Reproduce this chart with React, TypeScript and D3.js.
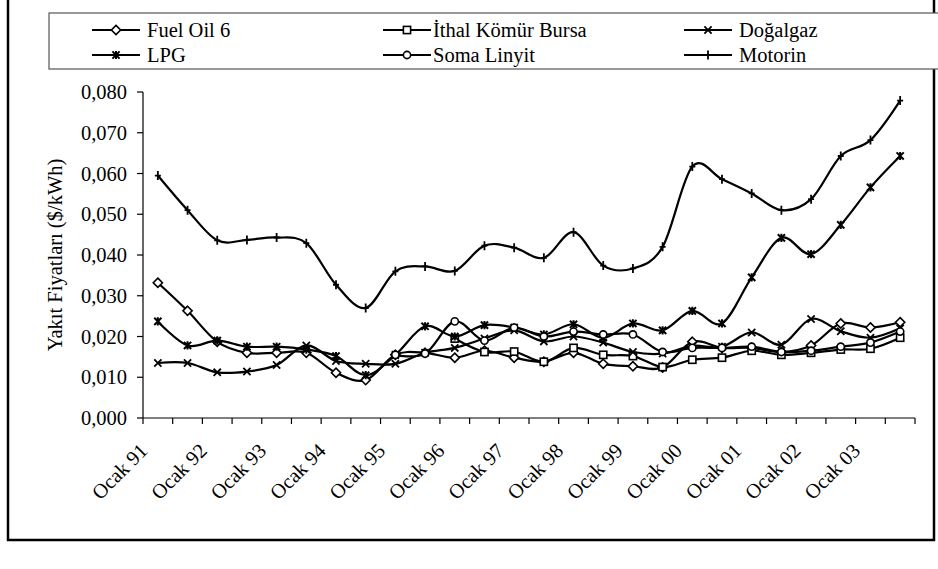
import React from 'react';
import * as d3 from 'd3';

const categories = [
  'Ocak 91', 'Temmuz 91', 'Ocak 92', 'Temmuz 92', 'Ocak 93', 'Temmuz 93', 'Ocak 94', 'Temmuz 94',
  'Ocak 95', 'Temmuz 95', 'Ocak 96', 'Temmuz 96', 'Ocak 97', 'Temmuz 97', 'Ocak 98', 'Temmuz 98',
  'Ocak 99', 'Temmuz 99', 'Ocak 00', 'Temmuz 00', 'Ocak 01', 'Temmuz 01', 'Ocak 02', 'Temmuz 02',
  'Ocak 03', 'Temmuz 03',
];
const tickLabels = ['Ocak 91', 'Ocak 92', 'Ocak 93', 'Ocak 94', 'Ocak 95', 'Ocak 96', 'Ocak 97', 'Ocak 98', 'Ocak 99', 'Ocak 00', 'Ocak 01', 'Ocak 02', 'Ocak 03'];

const fuelOil6 = [0.0332, 0.0263, 0.0187, 0.016, 0.016, 0.016, 0.0111, 0.0093, 0.0155, 0.016, 0.0148, 0.0165, 0.0148, 0.0138, 0.016, 0.0133, 0.0127, 0.0124, 0.0187, 0.0172, 0.0172, 0.0162, 0.0178, 0.0232, 0.0222, 0.0235];
const ithalKomur = [null, null, null, null, null, null, null, null, null, null, 0.0195, 0.0162, 0.0163, 0.0138, 0.0172, 0.0155, 0.0152, 0.0125, 0.0143, 0.0148, 0.0165, 0.0155, 0.016, 0.0168, 0.017, 0.0197];
const dogalgaz = [0.0135, 0.0135, 0.0112, 0.0114, 0.013, 0.0178, 0.014, 0.0133, 0.0133, 0.016, 0.0172, 0.0195, 0.0215, 0.0188, 0.02, 0.0185, 0.0162, 0.0158, 0.0177, 0.0175, 0.021, 0.018, 0.0243, 0.0213, 0.0197, 0.022];
const lpg = [0.0237, 0.0178, 0.019, 0.0175, 0.0175, 0.0168, 0.0152, 0.0105, 0.0155, 0.0225, 0.02, 0.0228, 0.0222, 0.0205, 0.023, 0.0197, 0.0232, 0.0215, 0.0263, 0.0232, 0.0345, 0.0442, 0.0402, 0.0474, 0.0566, 0.0643];
const somaLinyit = [null, null, null, null, null, null, null, null, 0.0155, 0.0158, 0.0237, 0.019, 0.0222, 0.02, 0.0212, 0.0205, 0.0205, 0.0162, 0.0172, 0.0172, 0.0175, 0.0162, 0.0165, 0.0175, 0.0185, 0.0212];
const motorin = [0.0595, 0.051, 0.0436, 0.0437, 0.0443, 0.0429, 0.0327, 0.027, 0.036, 0.0372, 0.0361, 0.0423, 0.0418, 0.0393, 0.0456, 0.0374, 0.0367, 0.042, 0.0617, 0.0586, 0.0551, 0.051, 0.0537, 0.0643, 0.0682, 0.0779];

const yTicks = [0, 0.01, 0.02, 0.03, 0.04, 0.05, 0.06, 0.07, 0.08];

const seriesNames = ['Fuel Oil 6', 'İthal Kömür Bursa', 'Doğalgaz', 'LPG', 'Soma Linyit', 'Motorin'];
const seriesValues = [fuelOil6, ithalKomur, dogalgaz, lpg, somaLinyit, motorin];
const seriesMarkers = ['diamond', 'square', 'x', 'star', 'circle', 'plus'];

const FONT = 'Liberation Serif, Times New Roman, serif';
const FS = 20.5;

function Marker({ type, x, y }: { type: string; x: number; y: number }) {
  const s = 3.6;
  const st = { stroke: '#000', strokeWidth: 1.6, fill: '#fff' } as any;
  if (type === 'diamond') {
    return <path d={`M${x},${y - 4.6}L${x + 4.6},${y}L${x},${y + 4.6}L${x - 4.6},${y}Z`} {...st} />;
  }
  if (type === 'square') {
    return <rect x={x - s} y={y - s} width={2 * s} height={2 * s} {...st} />;
  }
  if (type === 'circle') {
    return <circle cx={x} cy={y} r={s} {...st} />;
  }
  if (type === 'x') {
    return <path d={`M${x - s},${y - s}L${x + s},${y + s}M${x - s},${y + s}L${x + s},${y - s}`} stroke="#000" strokeWidth={1.8} fill="none" />;
  }
  if (type === 'star') {
    return (
      <path
        d={`M${x - s},${y - s}L${x + s},${y + s}M${x - s},${y + s}L${x + s},${y - s}M${x},${y - s - 0.5}L${x},${y + s + 0.5}`}
        stroke="#000"
        strokeWidth={2}
        fill="none"
      />
    );
  }
  return <path d={`M${x},${y - 4.5}L${x},${y + 4.5}M${x - 3},${y}L${x + 3},${y}`} stroke="#000" strokeWidth={1.8} fill="none" />;
}

export default function App() {
  const W = 938;
  const H = 569;
  const X0 = 143;
  const X1 = 915;
  const Y0 = 418;
  const Y1 = 92;

  const x = d3.scaleBand<number>().domain(d3.range(categories.length)).range([X0, X1]).padding(0);
  const y = d3.scaleLinear().domain([0, 0.08]).range([Y0, Y1]);
  const cx = (i: number) => (x(i) as number) + x.bandwidth() / 2;

  const line = d3
    .line<[number, number | null]>()
    .defined((d) => d[1] != null)
    .x((d) => cx(d[0]))
    .y((d) => y(d[1] as number))
    .curve(d3.curveCardinal.tension(0));

  const fmt = (v: number) => d3.format('.3f')(v).replace('.', ',');

  const tickPositions = d3.range(categories.length + 1).map((i) => X0 + i * x.bandwidth());

  const legendMarkX = [92, 383, 684];
  const legendTextX = [147, 433, 739];
  const legendRows = [30, 55];

  return (
    <svg width={W} height={H} style={{ position: 'absolute', left: 0, top: 0, background: '#fff' }} fontFamily={FONT}>
      <rect x={0} y={0} width={W} height={H} fill="#fff" />
      <path d={`M8,-5L8,540L934,540L934,-5`} fill="none" stroke="#000" strokeWidth={2.5} />

      <rect x={49} y={13} width={900} height={56} fill="#fff" stroke="#555" strokeWidth={1.2} />
      {seriesNames.map((name, k) => {
        const col = k % 3;
        const row = Math.floor(k / 3);
        const lx = legendMarkX[col];
        const ly = legendRows[row];
        return (
          <g key={name}>
            <line x1={lx} x2={lx + 48} y1={ly} y2={ly} stroke="#000" strokeWidth={2.2} />
            <Marker type={seriesMarkers[k]} x={lx + 24} y={ly} />
            <text x={legendTextX[col]} y={ly} dy="0.35em" fontSize={FS} fill="#000">
              {name}
            </text>
          </g>
        );
      })}

      <line x1={X0} x2={X0} y1={Y1} y2={Y0} stroke="#000" strokeWidth={1.2} />
      {yTicks.map((t) => (
        <g key={t}>
          <line x1={X0 - 6} x2={X0} y1={y(t)} y2={y(t)} stroke="#000" strokeWidth={1.2} />
          <text x={127} y={y(t)} dy="0.35em" textAnchor="end" fontSize={FS} fill="#000">
            {fmt(t)}
          </text>
        </g>
      ))}
      <text
        transform={`translate(55,${(Y0 + Y1) / 2}) rotate(-90)`}
        textAnchor="middle"
        dy="0.35em"
        fontSize={FS}
        fill="#000"
      >
        Yakıt Fiyatları ($/kWh)
      </text>

      <line x1={X0} x2={X1} y1={Y0} y2={Y0} stroke="#000" strokeWidth={1.2} />
      {tickPositions.map((p, i) => (
        <line key={i} x1={p} x2={p} y1={Y0} y2={Y0 + 6} stroke="#000" strokeWidth={1.2} />
      ))}
      {tickLabels.map((lab, j) => {
        const px = cx(j * 2);
        return (
          <text
            key={lab}
            transform={`translate(${px - 9},${Y0 + 34}) rotate(-45)`}
            textAnchor="end"
            fontSize={FS}
            fill="#000"
          >
            {lab}
          </text>
        );
      })}

      {seriesValues.map((vals, k) => {
        const data = vals.map((v, i) => [i, v] as [number, number | null]);
        return (
          <g key={seriesNames[k]}>
            <path d={line(data) || ''} fill="none" stroke="#000" strokeWidth={2.2} />
            {data
              .filter((d) => d[1] != null)
              .map((d) => (
                <Marker key={d[0]} type={seriesMarkers[k]} x={cx(d[0])} y={y(d[1] as number)} />
              ))}
          </g>
        );
      })}
    </svg>
  );
}
